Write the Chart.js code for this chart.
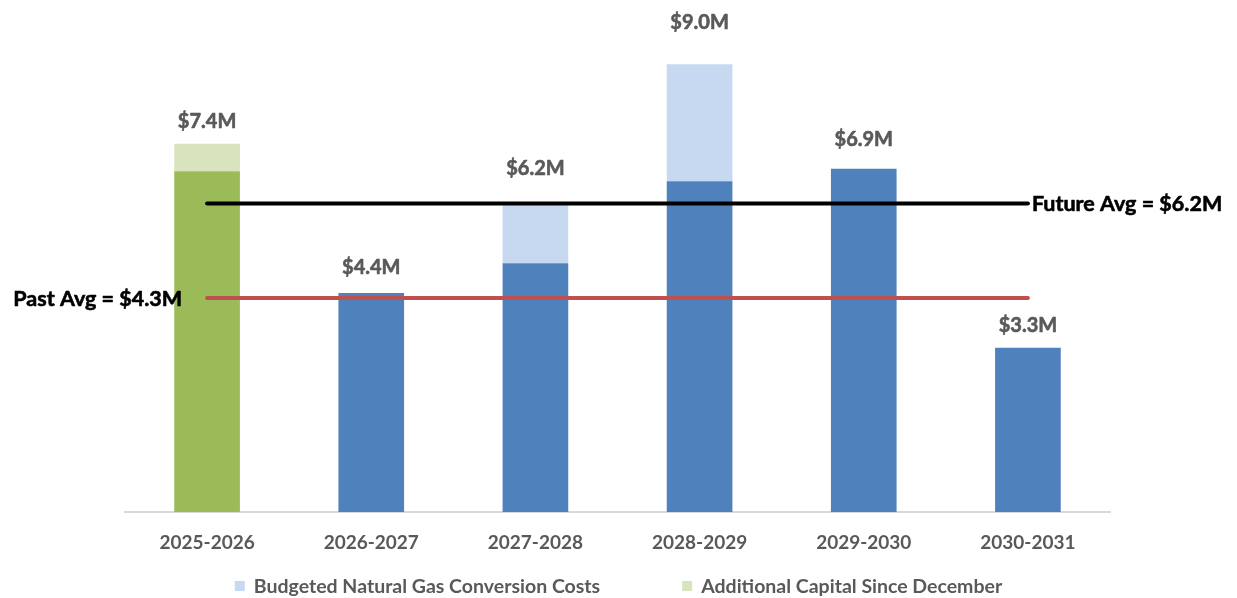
<!DOCTYPE html>
<html><head><meta charset="utf-8">
<script src="https://cdn.jsdelivr.net/npm/chart.js@4.4.1/dist/chart.umd.min.js"></script>
<style>html,body{margin:0;padding:0;background:#fff;}#wrap{width:1237px;height:598px;}</style>
</head><body><div id="wrap"><canvas id="c" width="1237" height="598"></canvas></div>
<script>
const categories = ['2025-2026', '2026-2027', '2027-2028', '2028-2029', '2029-2030', '2030-2031'];
const pastCapital = [6.85, null, null, null, null, null];
const plannedCapital = [null, 4.4, 5.0, 6.65, 6.9, 3.3];
const gasConversion = [null, null, 1.2, 2.35, null, null];
const additionalCapital = [0.55, null, null, null, null, null];
const pastAvg = [4.3, 4.3, 4.3, 4.3, 4.3, 4.3];
const futureAvg = [6.2, 6.2, 6.2, 6.2, 6.2, 6.2];
const pastAvgLabel = 'Past Avg = $4.3M';
const futureAvgLabel = 'Future Avg = $6.2M';

const FONT = 'Lato, "Open Sans", sans-serif';
const GREY = '#595959';
// vertical distance (px) from bar top to label centre, per bar
const labelGap = [22, 26, 35, 42, 29, 22];

function heavyText(ctx, text, x, y, color) {
  ctx.fillStyle = color;
  ctx.strokeStyle = color;
  ctx.lineWidth = 0.6;
  ctx.lineJoin = 'round';
  ctx.strokeText(text, x, y);
  ctx.fillText(text, x, y);
}

const totalsPlugin = {
  id: 'totals',
  afterDatasetsDraw(chart) {
    const ctx = chart.ctx;
    const xs = chart.scales.x, ys = chart.scales.y;
    const barSets = [0, 1, 2, 3];
    ctx.save();
    ctx.font = 'bold 20px ' + FONT;
    ctx.textAlign = 'center';
    ctx.textBaseline = 'middle';
    categories.forEach((c, i) => {
      let total = 0;
      barSets.forEach(d => { const v = chart.data.datasets[d].data[i]; if (v != null) total += v; });
      const x = xs.getPixelForValue(i);
      const y = ys.getPixelForValue(total);
      heavyText(ctx, '$' + total.toFixed(1) + 'M', x, y - labelGap[i], GREY);
    });
    // average line labels
    ctx.font = 'bold 21.5px ' + FONT;
    const pMeta = chart.getDatasetMeta(4), fMeta = chart.getDatasetMeta(5);
    const p0 = pMeta.data[0];
    ctx.textAlign = 'right';
    heavyText(ctx, pastAvgLabel, p0.x - 25, p0.y + 1, '#000');
    const fN = fMeta.data[fMeta.data.length - 1];
    ctx.textAlign = 'left';
    heavyText(ctx, futureAvgLabel, fN.x + 4, fN.y + 1, '#000');
    ctx.restore();
  }
};

const legendPlugin = {
  id: 'customLegend',
  afterDraw(chart) {
    const ctx = chart.ctx;
    const items = [2, 3].map(d => chart.data.datasets[d]);
    ctx.save();
    ctx.font = 'bold 19.5px ' + FONT;
    ctx.textBaseline = 'middle';
    ctx.textAlign = 'left';
    const box = 10, gapBox = 9, gapItem = 82;
    const widths = items.map(it => box + gapBox + ctx.measureText(it.label).width);
    const total = widths.reduce((a, b) => a + b, 0) + gapItem * (items.length - 1);
    let x = (chart.width - total) / 2;
    const y = 586;
    items.forEach((it, k) => {
      ctx.fillStyle = it.backgroundColor;
      ctx.fillRect(x, y - box / 2, box, box);
      ctx.fillStyle = GREY;
      ctx.fillText(it.label, x + box + gapBox, y + 1);
      x += widths[k] + gapItem;
    });
    ctx.restore();
  }
};

new Chart(document.getElementById('c'), {
  type: 'bar',
  data: {
    labels: categories,
    datasets: [
      { label: 'Past Capital', data: pastCapital, backgroundColor: '#9BBB59', order: 1 },
      { label: 'Planned Capital', data: plannedCapital, backgroundColor: '#4F81BD', order: 1 },
      { label: 'Budgeted Natural Gas Conversion Costs', data: gasConversion, backgroundColor: '#C6D9F1', order: 1 },
      { label: 'Additional Capital Since December', data: additionalCapital, backgroundColor: '#D7E4BD', order: 1 },
      { type: 'line', label: 'Past Avg', data: pastAvg, borderColor: '#C0504D', borderWidth: 4, pointRadius: 0, borderCapStyle: 'round', stack: 'pastLine', order: 0, fill: false },
      { type: 'line', label: 'Future Avg', data: futureAvg, borderColor: '#000000', borderWidth: 4, pointRadius: 0, borderCapStyle: 'round', stack: 'futureLine', order: 0, fill: false }
    ]
  },
  options: {
    responsive: false,
    animation: false,
    devicePixelRatio: 1,
    layout: { padding: { left: 125, right: 127, top: 14.5, bottom: 36 } },
    datasets: { bar: { categoryPercentage: 1, barPercentage: 0.4 } },
    plugins: { legend: { display: false }, tooltip: { enabled: false } },
    scales: {
      x: {
        stacked: true,
        grid: { display: false, drawTicks: false },
        border: { display: true, color: '#D9D9D9', width: 2 },
        ticks: { color: GREY, font: { family: FONT, size: 19, weight: 'bold' }, padding: 19 },
        afterFit(scale) { scale.height = 50; }
      },
      y: {
        stacked: true, display: false, min: 0, max: 10
      }
    }
  },
  plugins: [totalsPlugin, legendPlugin]
});
</script>
</body></html>
